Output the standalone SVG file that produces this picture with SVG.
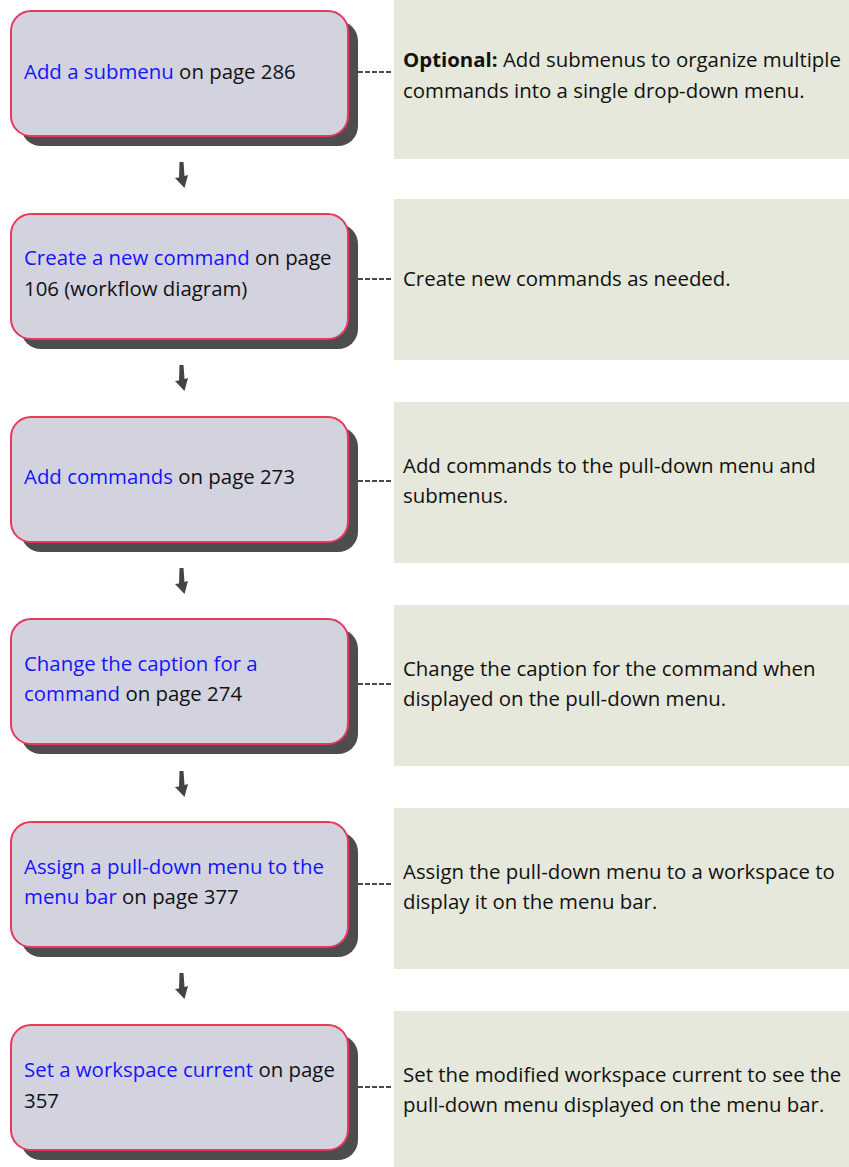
<svg xmlns="http://www.w3.org/2000/svg" width="849" height="1167" viewBox="0 0 849 1167">
<defs>
<style>
.panel{fill:#e5e8da}
.shadow{fill:#4d4d4d}
.box{fill:#d3d3df;stroke:#e8385c;stroke-width:2}
.t{font-family:"Open Sans","Noto Sans",sans-serif;font-size:20.4px;fill:#111}
.l{fill:#1414ff}
.dash{stroke:#111;stroke-width:1.5;stroke-dasharray:5 2;fill:none}
.arrow{fill:#444}
</style>
<g id="node-shape">
<rect class="shadow" x="10" y="10" width="337" height="125" rx="20"/>
<rect class="box" x="0" y="0" width="337" height="125" rx="20"/>
</g>
<path id="arr" class="arrow" d="M-2.5,0 L1.5,0 L2.5,14 L6,13 L2.5,26 L-7,16 L-3,15.5 Z"/>
</defs>
<g id="panels">
<rect class="panel" x="394" y="0" width="455" height="159"/>
<rect class="panel" x="394" y="199" width="455" height="161"/>
<rect class="panel" x="394" y="402" width="455" height="161"/>
<rect class="panel" x="394" y="605" width="455" height="161"/>
<rect class="panel" x="394" y="808" width="455" height="161"/>
<rect class="panel" x="394" y="1011" width="455" height="156"/>
</g>
<g id="connectors">
<line class="dash" x1="358" y1="72" x2="391" y2="72"/>
<line class="dash" x1="358" y1="279" x2="391" y2="279"/>
<line class="dash" x1="358" y1="481" x2="391" y2="481"/>
<line class="dash" x1="358" y1="684" x2="391" y2="684"/>
<line class="dash" x1="358" y1="884" x2="391" y2="884"/>
<line class="dash" x1="358" y1="1087" x2="391" y2="1087"/>
<use href="#arr" x="182" y="162"/>
<use href="#arr" x="182" y="365"/>
<use href="#arr" x="182" y="568"/>
<use href="#arr" x="182" y="771"/>
<use href="#arr" x="182" y="973"/>
</g>
<g id="node1">
<use href="#node-shape" x="11" y="11"/>
<text class="t" x="24" y="79"><tspan class="l">Add a submenu</tspan> on page 286</text>
</g>
<g id="node2">
<use href="#node-shape" x="11" y="214"/>
<text class="t" x="24" y="265"><tspan class="l">Create a new command</tspan> on page</text>
<text class="t" x="24" y="296">106 (workflow diagram)</text>
</g>
<g id="node3">
<use href="#node-shape" x="11" y="417"/>
<text class="t" x="24" y="484"><tspan class="l">Add commands</tspan> on page 273</text>
</g>
<g id="node4">
<use href="#node-shape" x="11" y="619"/>
<text class="t" x="24" y="671"><tspan class="l">Change the caption for a</tspan></text>
<text class="t" x="24" y="701"><tspan class="l">command</tspan> on page 274</text>
</g>
<g id="node5">
<use href="#node-shape" x="11" y="822"/>
<text class="t" x="24" y="874"><tspan class="l">Assign a pull-down menu to the</tspan></text>
<text class="t" x="24" y="904"><tspan class="l">menu bar</tspan> on page 377</text>
</g>
<g id="node6">
<use href="#node-shape" x="11" y="1025"/>
<text class="t" x="24" y="1077"><tspan class="l">Set a workspace current</tspan> on page</text>
<text class="t" x="24" y="1108">357</text>
</g>
<g id="notes">
<text class="t" x="403" y="67"><tspan font-weight="bold">Optional:</tspan> Add submenus to organize multiple</text>
<text class="t" x="403" y="98">commands into a single drop-down menu.</text>
<text class="t" x="403" y="286">Create new commands as needed.</text>
<text class="t" x="403" y="473">Add commands to the pull-down menu and</text>
<text class="t" x="403" y="503">submenus.</text>
<text class="t" x="403" y="676">Change the caption for the command when</text>
<text class="t" x="403" y="706">displayed on the pull-down menu.</text>
<text class="t" x="403" y="879">Assign the pull-down menu to a workspace to</text>
<text class="t" x="403" y="909">display it on the menu bar.</text>
<text class="t" x="403" y="1082">Set the modified workspace current to see the</text>
<text class="t" x="403" y="1112">pull-down menu displayed on the menu bar.</text>
</g>
</svg>
